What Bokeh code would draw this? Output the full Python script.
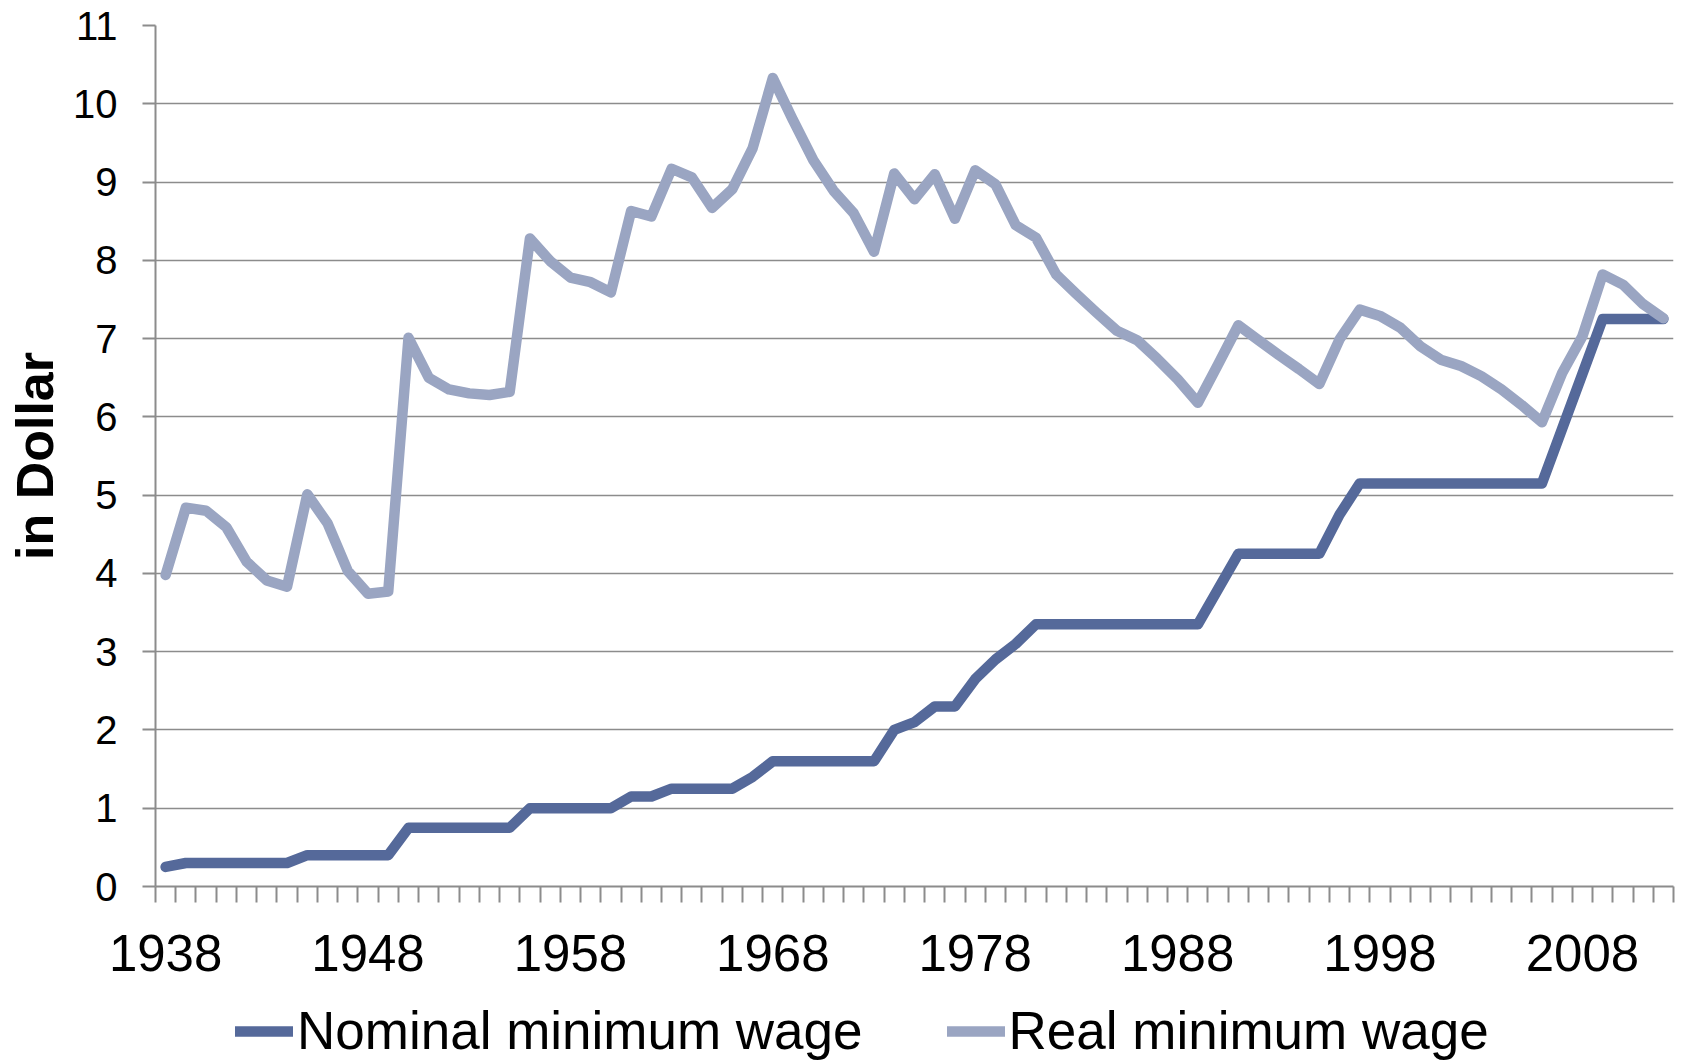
from bokeh.plotting import figure
from bokeh.models import Range1d, FixedTicker, Legend, ColumnDataSource
from bokeh.layouts import column
from bokeh.embed import file_html
from bokeh.resources import INLINE

years = list(range(1938, 2013))
nominal = [0.25, 0.30, 0.30, 0.30, 0.30, 0.30, 0.30, 0.40, 0.40, 0.40,
           0.40, 0.40, 0.75, 0.75, 0.75, 0.75, 0.75, 0.75, 1.00, 1.00,
           1.00, 1.00, 1.00, 1.15, 1.15, 1.25, 1.25, 1.25, 1.25, 1.40,
           1.60, 1.60, 1.60, 1.60, 1.60, 1.60, 2.00, 2.10, 2.30, 2.30,
           2.65, 2.90, 3.10, 3.35, 3.35, 3.35, 3.35, 3.35, 3.35, 3.35,
           3.35, 3.35, 3.80, 4.25, 4.25, 4.25, 4.25, 4.25, 4.75, 5.15,
           5.15, 5.15, 5.15, 5.15, 5.15, 5.15, 5.15, 5.15, 5.15, 5.85,
           6.55, 7.25, 7.25, 7.25, 7.25]
real = [3.98, 4.84, 4.80, 4.59, 4.15, 3.91, 3.83, 5.01, 4.64, 4.03,
        3.74, 3.77, 7.01, 6.50, 6.35, 6.30, 6.28, 6.32, 8.28, 7.99,
        7.78, 7.72, 7.59, 8.63, 8.56, 9.17, 9.06, 8.67, 8.91, 9.43,
        10.33, 9.79, 9.28, 8.89, 8.60, 8.11, 9.11, 8.78, 9.10, 8.53,
        9.15, 8.97, 8.45, 8.29, 7.82, 7.57, 7.33, 7.10, 6.98, 6.74,
        6.48, 6.18, 6.67, 7.17, 6.98, 6.79, 6.61, 6.42, 6.99, 7.37,
        7.29, 7.14, 6.90, 6.73, 6.65, 6.52, 6.35, 6.15, 5.93, 6.56,
        7.03, 7.82, 7.69, 7.44, 7.26]
year_labels = [1938, 1948, 1958, 1968, 1978, 1988, 1998, 2008]
y_ticks = [0, 1, 2, 3, 4, 5, 6, 7, 8, 9, 10, 11]
series_names = ["Nominal minimum wage", "Real minimum wage"]
series_colors = ["#55699a", "#9aa5c2"]

FONT = "Liberation Sans"
GRAY = "#8c8c8c"
LW = 10.5

src = ColumnDataSource(dict(year=years, nominal=nominal, real=real))

p = figure(width=1682, height=985, output_backend="svg", toolbar_location=None,
           x_range=Range1d(years[0] - 0.5, years[-1] + 0.5),
           y_range=Range1d(0, 11),
           min_border_left=155, min_border_right=9, min_border_top=25,
           min_border_bottom=99)
p.outline_line_color = None
p.background_fill_color = "white"
p.border_fill_color = "white"

r1 = p.line("year", "nominal", source=src, line_color=series_colors[0], line_width=LW,
            line_join="round", line_cap="round")
r2 = p.line("year", "real", source=src, line_color=series_colors[1], line_width=LW,
            line_join="round", line_cap="round")

# x axis
xa = p.xaxis[0]
xa.ticker = FixedTicker(ticks=year_labels,
                        minor_ticks=[y - 0.5 for y in years] + [years[-1] + 0.5])
xa.major_tick_out = 0
xa.major_tick_in = 0
xa.minor_tick_out = 16
xa.minor_tick_in = 0
xa.minor_tick_line_color = GRAY
xa.minor_tick_line_width = 2
xa.axis_line_color = GRAY
xa.axis_line_width = 2
xa.major_label_text_font = FONT
xa.major_label_text_font_size = "51px"
xa.major_label_text_color = "black"
xa.major_label_standoff = 32

# y axis
ya = p.yaxis[0]
ya.ticker = FixedTicker(ticks=y_ticks)
ya.major_tick_out = 13
ya.major_tick_in = 0
ya.major_tick_line_color = GRAY
ya.major_tick_line_width = 2
ya.minor_tick_out = 0
ya.minor_tick_in = 0
ya.axis_line_color = GRAY
ya.axis_line_width = 2
ya.major_label_text_font = FONT
ya.major_label_text_font_size = "40px"
ya.major_label_text_color = "black"
ya.major_label_standoff = 25
ya.axis_label = "in Dollar"
ya.axis_label_text_font = FONT
ya.axis_label_text_font_size = "52px"
ya.axis_label_text_font_style = "bold"
ya.axis_label_text_color = "black"
ya.axis_label_standoff = 6

p.xgrid.grid_line_color = None
p.ygrid.grid_line_color = GRAY
p.ygrid.grid_line_width = 1.6
p.ygrid.ticker = FixedTicker(ticks=y_ticks)

# legend strip below the chart (its lines use the same data, kept out of view)
p2 = figure(width=1682, height=76, output_backend="svg", toolbar_location=None,
            x_range=Range1d(years[0] - 0.5, years[-1] + 0.5),
            y_range=Range1d(100, 101),
            x_axis_location=None, y_axis_location=None,
            min_border_left=155, min_border_right=9,
            min_border_top=0, min_border_bottom=0)
p2.outline_line_color = None
p2.grid.grid_line_color = None
p2.background_fill_color = "white"
p2.border_fill_color = "white"
lr1 = p2.line("year", "nominal", source=src, line_color=series_colors[0],
              line_width=LW, line_cap="round")
lr2 = p2.line("year", "real", source=src, line_color=series_colors[1],
              line_width=LW, line_cap="round")

legend = Legend(items=[(series_names[0], [lr1]), (series_names[1], [lr2])],
                orientation="horizontal", location=(80, 0),
                label_text_font=FONT, label_text_font_size="53px",
                label_text_color="black",
                glyph_width=58, glyph_height=20, label_standoff=4,
                spacing=84, padding=0, margin=0,
                border_line_color=None, background_fill_alpha=0)
p2.add_layout(legend)

layout = column(p, p2, spacing=0)
open("out.html", "w").write(file_html(layout, INLINE))
